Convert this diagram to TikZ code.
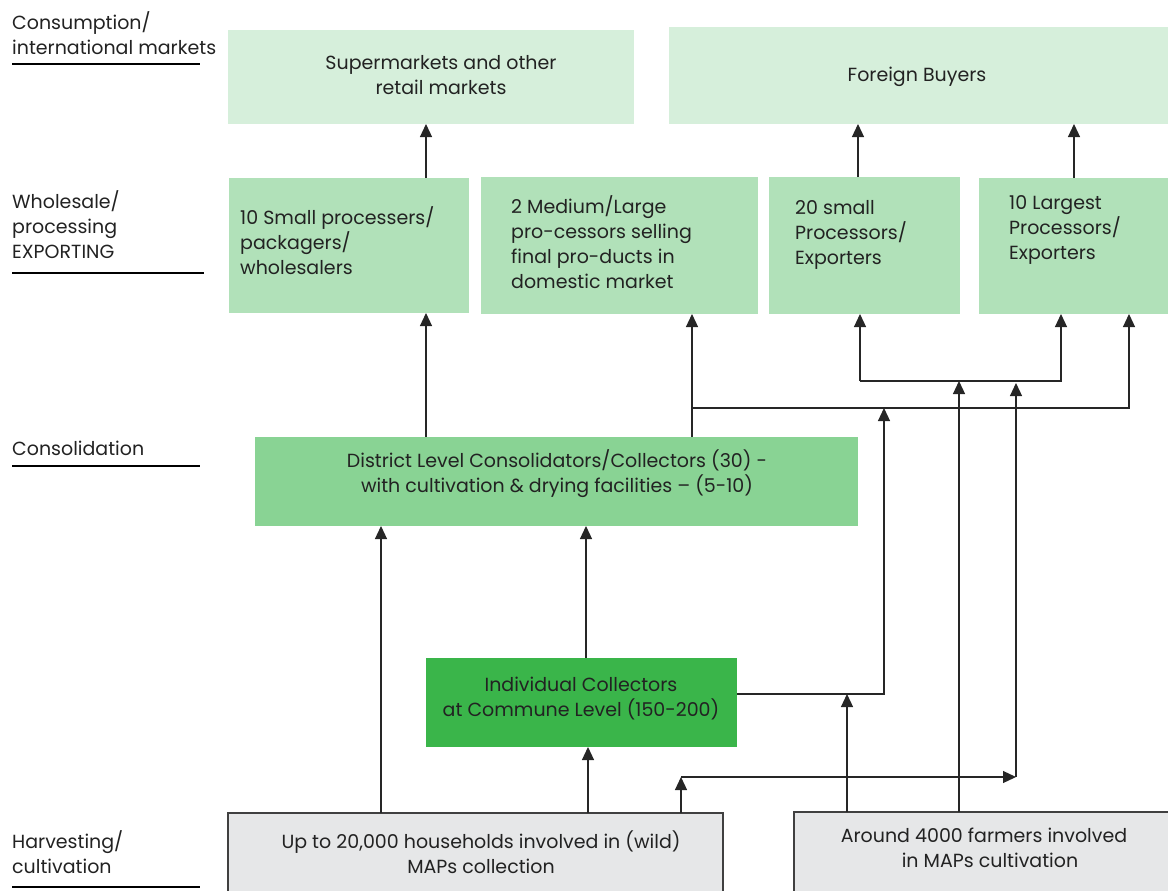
\documentclass[tikz,border=0pt]{standalone}
\usepackage{fontspec}
\setmainfont{Poppins}
\usetikzlibrary{arrows.meta}
\definecolor{cLight}{HTML}{D6EFDB}
\definecolor{cMid}{HTML}{B1E1B9}
\definecolor{cCons}{HTML}{89D394}
\definecolor{cInd}{HTML}{3AB54A}
\definecolor{cGray}{HTML}{E6E7E8}
\definecolor{cText}{HTML}{222222}
\tikzset{
  box/.style={draw=none, inner sep=0pt, outer sep=0pt, anchor=north west},
  harv/.style={box, fill=cGray, draw=black!75, line width=1.3pt},
  txt/.style={inner sep=0pt, text=cText, font=\fontsize{19}{25}\selectfont},
  ltxt/.style={txt, align=left, anchor=north west},
  ctxt/.style={txt, align=center},
  conn/.style={draw=black!85, line width=1.2pt},
  arr/.style={conn, -{Triangle[width=12pt,length=13pt]}},
  rule/.style={line width=2.6pt, black}
}
\begin{document}
\begin{tikzpicture}[x=1pt,y=-1pt]
\useasboundingbox (0,0) rectangle (1168,891);
% boxes
\node[box, fill=cLight, minimum width=406pt, minimum height=94pt] (sup) at (228,30) {};
\node[box, fill=cLight, minimum width=499pt, minimum height=97pt] (fb) at (669,27) {};
\node[box, fill=cMid, minimum width=240pt, minimum height=135pt] (sp) at (229,178) {};
\node[box, fill=cMid, minimum width=277pt, minimum height=137pt] (ml) at (481,177) {};
\node[box, fill=cMid, minimum width=191pt, minimum height=137pt] (se) at (769,177) {};
\node[box, fill=cMid, minimum width=189pt, minimum height=136pt] (le) at (979,178) {};
\node[box, fill=cCons, minimum width=603pt, minimum height=89pt] (cons) at (255,437) {};
\node[box, fill=cInd, minimum width=311pt, minimum height=89pt] (ind) at (426,658) {};
\node[harv, minimum width=495pt, minimum height=90pt] (hh) at (228,813) {};
\node[harv, minimum width=386pt, minimum height=90pt] (fa) at (794,812) {};
% box texts
\node[ctxt] (tsup) at (441,75.5) {Supermarkets and other\\retail markets};
\node[ctxt] (tfb) at (917,76.5) {Foreign Buyers};
\node[ltxt] (tsp) at (240,206) {10 Small processers/\\packagers/\\wholesalers};
\node[ltxt] (tml) at (511,195) {2 Medium/Large\\pro-cessors selling\\final pro-ducts in\\domestic market};
\node[ltxt] (tse) at (795,200) {20 small\\Processors/\\Exporters};
\node[ltxt] (tle) at (1009,195) {10 Largest\\Processors/\\Exporters};
\node[ctxt] (tcons) at (557,474) {District Level Consolidators/Collectors (30) -\\with cultivation \& drying facilities -- (5-10)};
\node[ctxt] (tind) at (581,699) {Individual Collectors\\at Commune Level (150-200)};
\node[ctxt] (thh) at (481,852.5) {Up to 20,000 households involved in (wild)\\MAPs collection};
\node[ctxt] (tfa) at (984,848) {Around 4000 farmers involved\\\hspace*{12pt}in MAPs cultivation};
% left labels
\node[ltxt] (l1) at (12,11) {Consumption/\\international markets};
\node[ltxt] (l2) at (12,190) {Wholesale/\\processing\\EXPORTING};
\node[ltxt] (l3) at (12,441) {Consolidation};
\node[ltxt] (l4) at (12,830) {Harvesting/\\cultivation};
\coordinate (r1a) at (12,64); \coordinate (r1b) at (200,64);
\coordinate (r2a) at (12,273); \coordinate (r2b) at (204,273);
\coordinate (r3a) at (12,466); \coordinate (r3b) at (200,466);
\coordinate (r4a) at (12,887); \coordinate (r4b) at (200,887);
\draw[rule] (r1a) -- (r1b);
\draw[rule] (r2a) -- (r2b);
\draw[rule] (r3a) -- (r3b);
\draw[rule] (r4a) -- (r4b);
% helper coordinates
\coordinate (x426) at (426,0);
\coordinate (x858) at (858,0);
\coordinate (x1074) at (1074,0);
\coordinate (x692) at (692,0);
\coordinate (x381) at (381,0);
\coordinate (x586) at (586,0);
\coordinate (x588) at (588,0);
\coordinate (x681) at (681,0);
\coordinate (x847) at (847,0);
\coordinate (x959) at (959,0);
\coordinate (j408a) at (692,408);
\coordinate (j408b) at (1129,408);
\coordinate (j408c) at (884,408);
\coordinate (j694) at (884,694);
\coordinate (j381a) at (860,381);
\coordinate (j381b) at (1061,381);
\coordinate (j381c) at (959,381);
\coordinate (j383) at (1016,383);
\coordinate (j777a) at (681,777);
\coordinate (j777b) at (1016,777);
\coordinate (j694b) at (847,694);
% connectors
\draw[arr] (sp.north -| x426) -- (sup.south -| x426);
\draw[arr] (se.north -| x858) -- (fb.south -| x858);
\draw[arr] (le.north -| x1074) -- (fb.south -| x1074);
\draw[arr] (cons.north -| x426) -- (sp.south -| x426);
\draw[arr] (cons.north -| x692) -- (ml.south -| x692);
\draw[arr] (j408a) -- (j408b) -- (le.south -| j408b);
\draw[arr] (ind.east |- j694) -- (j694) -- (j408c);
\draw[arr] (j381a) -- (se.south -| j381a);
\draw[arr] (j381a) -- (j381b) -- (le.south -| j381b);
\draw[arr] (fa.north -| x959) -- (j381c);
\draw[arr] (j777b) -- (j383);
\draw[arr] (hh.north -| x381) -- (cons.south -| x381);
\draw[arr] (ind.north -| x586) -- (cons.south -| x586);
\draw[arr] (hh.north -| x588) -- (ind.south -| x588);
\draw[arr] (hh.north -| x681) -- (j777a);
\draw[arr] (j777a) -- (j777b);
\draw[arr] (fa.north -| x847) -- (j694b);
\end{tikzpicture}
\end{document}
